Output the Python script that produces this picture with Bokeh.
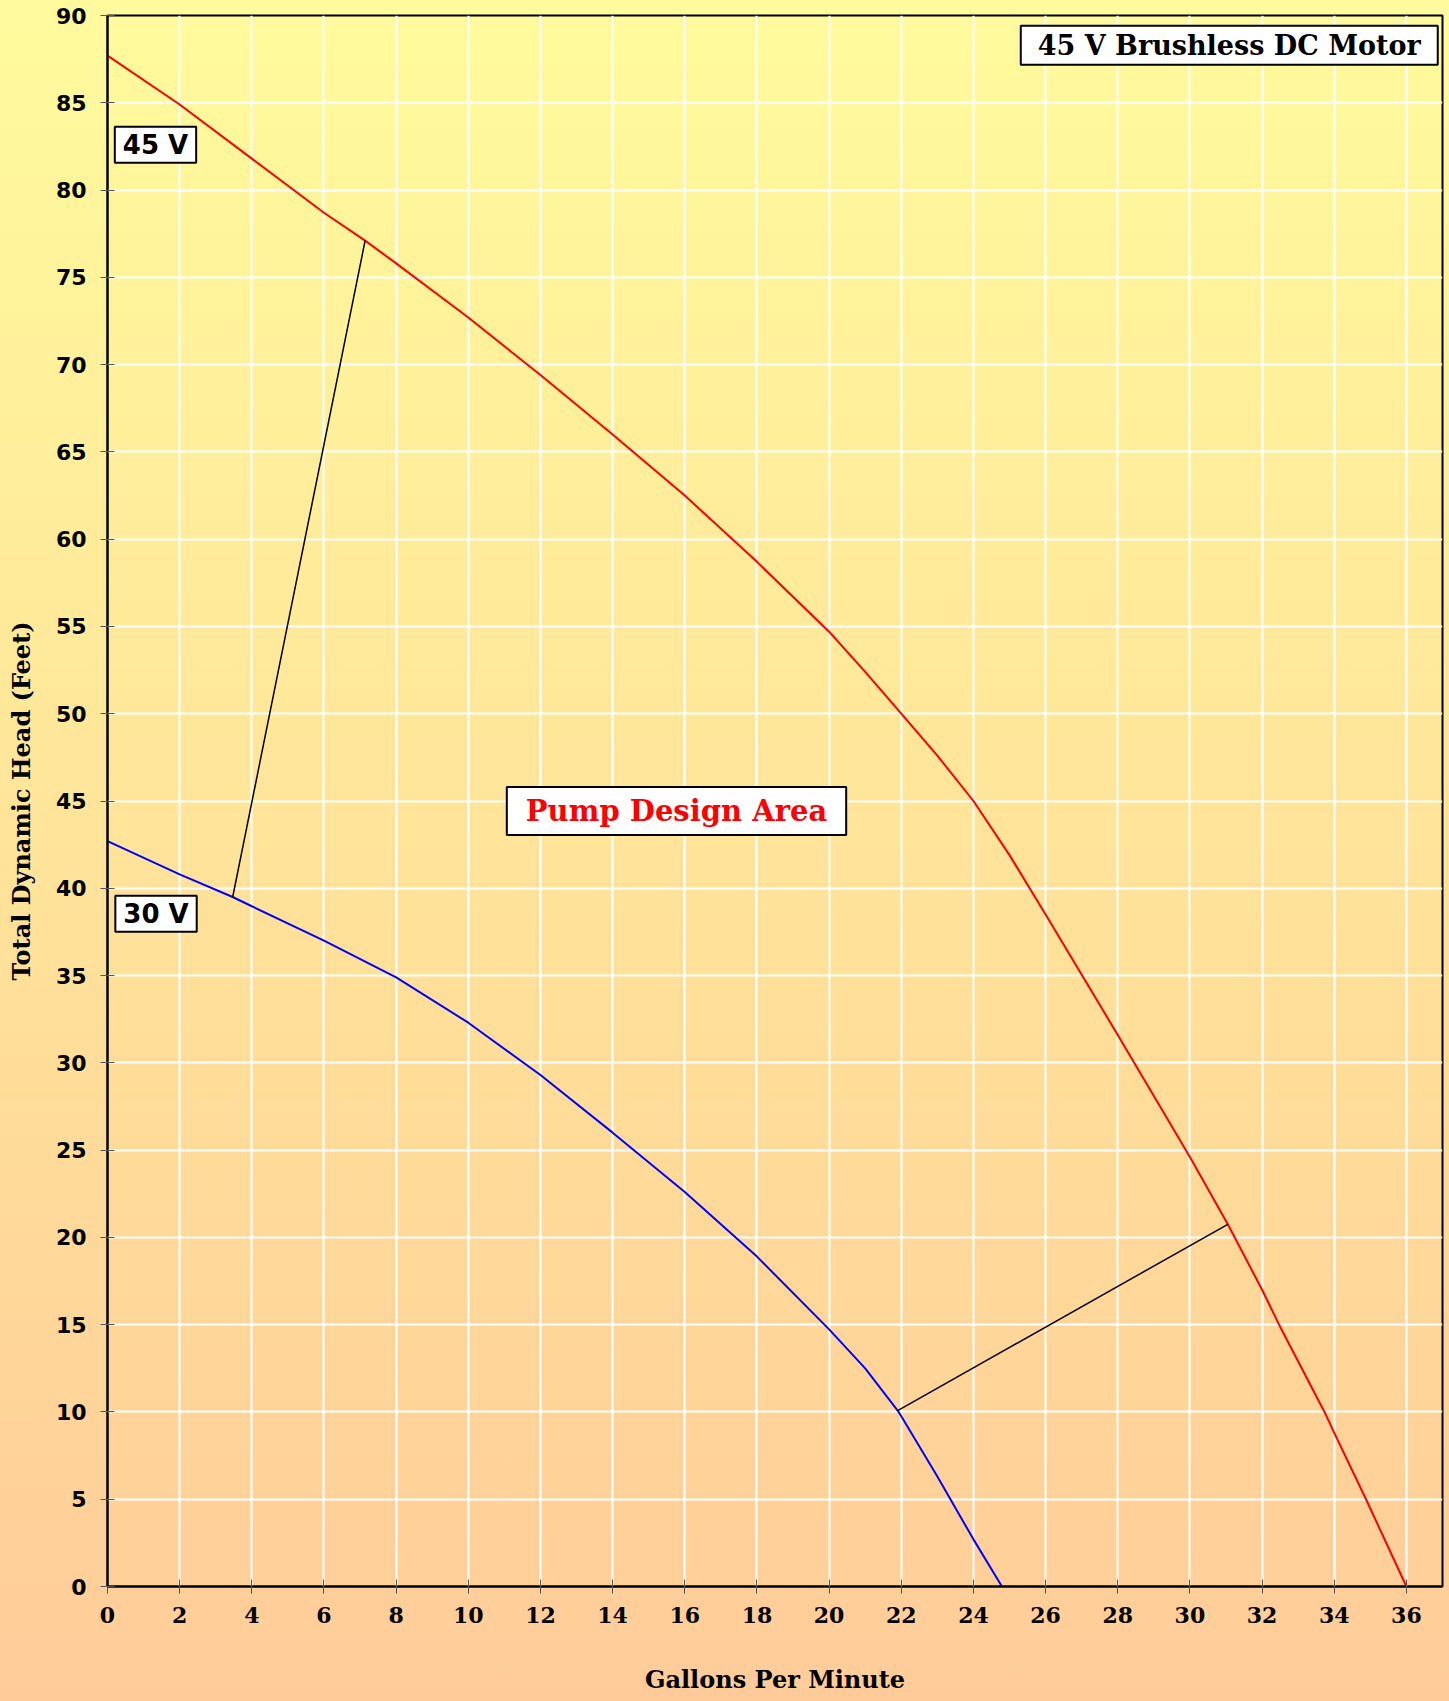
from bokeh.plotting import figure
from bokeh.models import Label, FixedTicker, Range1d
from bokeh.embed import file_html
from bokeh.resources import INLINE

# 45 V curve (GPM, feet)
gpm_45 = [0, 2, 4, 6, 7.14, 8, 10, 12, 14, 16, 18, 20, 21, 22, 23, 24, 25, 26, 28, 30, 31.05, 32, 32.47, 33.73, 34, 34.88, 36]
head_45 = [87.7, 84.9, 81.8, 78.7, 77.1, 75.8, 72.7, 69.4, 66.0, 62.5, 58.7, 54.7, 52.4, 50.0, 47.6, 45.0, 41.9, 38.5, 31.6, 24.6, 20.75, 17.0, 15.0, 10.0, 8.8, 5.0, 0.0]

# 30 V curve
gpm_30 = [0, 2, 3.47, 4, 6, 8, 10, 12, 14, 16, 18, 20, 21, 21.9, 22, 23, 24, 24.79]
head_30 = [42.7, 40.8, 39.5, 38.97, 37.0, 34.9, 32.3, 29.3, 26.0, 22.6, 18.9, 14.73, 12.5, 10.08, 9.75, 6.3, 2.7, 0.0]

# design-area boundary lines
bound1_x = [3.47, 7.14]
bound1_y = [39.5, 77.1]
bound2_x = [21.9, 31.05]
bound2_y = [10.08, 20.75]

x_ticks = list(range(0, 37, 2))
y_ticks = list(range(0, 91, 5))

SERIF = "DejaVu Serif"
SANS = "DejaVu Sans"

p = figure(width=1445, height=1700, output_backend="svg", toolbar_location=None,
           x_range=Range1d(0, 37), y_range=Range1d(0, 90),
           min_border_left=107, min_border_right=3, min_border_top=15, min_border_bottom=114)

p.background_fill_alpha = 0
p.border_fill_alpha = 0
p.outline_line_color = "black"
p.outline_line_width = 2

p.xgrid.grid_line_color = "white"
p.ygrid.grid_line_color = "white"
p.xgrid.grid_line_width = 2
p.ygrid.grid_line_width = 2
p.xaxis.ticker = FixedTicker(ticks=x_ticks)
p.yaxis.ticker = FixedTicker(ticks=y_ticks)

for ax in (p.xaxis[0], p.yaxis[0]):
    ax.axis_line_color = "black"
    ax.axis_line_width = 2
    ax.major_tick_in = 7
    ax.major_tick_out = 7
    ax.major_tick_line_color = "#555555"
    ax.minor_tick_line_color = None
    ax.major_label_text_font_style = "bold"
    ax.major_label_text_font_size = "22px"
    ax.major_label_text_color = "black"
    ax.axis_label_text_font = SERIF
    ax.axis_label_text_font_style = "bold"
    ax.axis_label_text_font_size = "24px"
    ax.axis_label_text_color = "black"

p.xaxis.major_label_text_font = SERIF
p.yaxis.major_label_text_font = SANS
p.xaxis.major_label_standoff = 13
p.yaxis.major_label_standoff = 14
p.xaxis.axis_label = "Gallons Per Minute"
p.yaxis.axis_label = "Total Dynamic Head (Feet)"
p.xaxis.axis_label_standoff = 39
p.yaxis.axis_label_standoff = 17

p.line(gpm_45, head_45, line_color="red", line_width=2)
p.line(gpm_30, head_30, line_color="blue", line_width=2)
p.line(bound1_x, bound1_y, line_color="black", line_width=1.5)
p.line(bound2_x, bound2_y, line_color="black", line_width=1.5)

def box(x, y, text, size, font, pad, color="black"):
    p.add_layout(Label(x=x, y=y, text=text, text_align="center", text_baseline="middle",
                       text_font=font, text_font_style="bold", text_font_size=size,
                       text_color=color, background_fill_color="white",
                       border_line_color="black", border_line_width=2, padding=pad))

box(1.33, 82.6, "45 V", "26px", SANS, (8, 3))
box(1.345, 38.54, "30 V", "26px", SANS, (8, 3))
box(15.77, 44.43, "Pump Design Area", "29px", SERIF, (19, 7), "red")
box(31.09, 88.3, "45 V Brushless DC Motor", "27px", SERIF, (17, 4))

html = file_html(p, INLINE)
css = ("<style>html{height:100%;background:linear-gradient(to bottom,#FFFB9D 0%,#FFE69A 45%,#FFCC99 100%) no-repeat;}"
       "body{background:transparent;}</style>")
html = html.replace("</head>", css + "</head>", 1)
open("out.html", "w").write(html)
